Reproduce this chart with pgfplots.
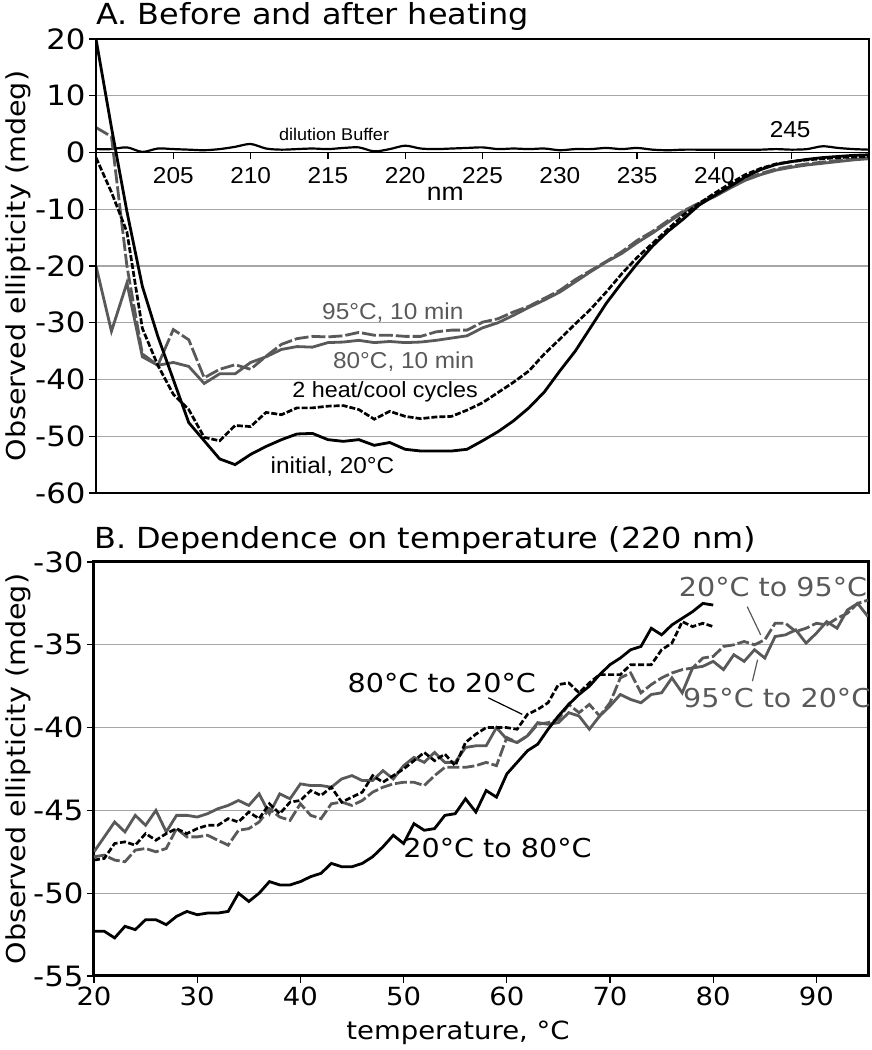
\documentclass[border=0pt]{standalone}
\usepackage{fontspec}
\setmainfont{DejaVu Sans}[FakeStretch=1.1]
\newfontfamily\arial{Liberation Sans}[FakeStretch=1.06]
\usepackage{pgfplots}
\usepackage{pgfplotstable}
\pgfplotsset{compat=1.18}
\definecolor{dg}{HTML}{595959}
\definecolor{gridc}{HTML}{A6A6A6}

\pgfplotstableread{
x init cyc h80 h95 buf
200 20.0 -0.9 -20.0 4.4 0.6
201 4.4 -7.0 -31.5 2.8 0.6
202 -10.4 -14.0 -23.0 -20.0 0.9
203 -23.6 -31.0 -36.0 -35.5 0.1
204 -32.4 -37.5 -37.5 -37.5 0.7
205 -40.0 -42.6 -37.0 -31.2 0.6
206 -47.6 -45.3 -37.7 -33.0 0.5
207 -50.8 -50.2 -40.7 -39.7 0.4
208 -54.0 -50.8 -39.0 -38.2 0.6
209 -55.0 -48.1 -39.0 -37.4 1.0
210 -53.2 -48.3 -37.0 -38.2 1.5
211 -51.8 -45.8 -36.0 -35.9 0.7
212 -50.6 -46.2 -34.7 -33.8 0.5
213 -49.6 -45.0 -34.2 -32.8 0.6
214 -49.5 -45.0 -34.3 -32.4 0.7
215 -50.6 -44.7 -33.5 -32.5 0.6
216 -50.9 -44.6 -33.4 -32.3 0.8
217 -50.6 -45.3 -33.1 -31.7 0.9
218 -51.6 -47.0 -33.5 -32.2 0.2
219 -51.1 -45.6 -33.3 -32.2 0.6
220 -52.3 -46.5 -33.5 -32.4 1.2
221 -52.6 -46.9 -33.4 -32.4 0.7
222 -52.6 -46.6 -33.1 -31.6 0.6
223 -52.6 -46.5 -32.7 -31.3 0.7
224 -52.3 -45.4 -32.3 -31.3 0.8
225 -50.8 -44.1 -30.9 -29.9 0.9
226 -49.2 -42.3 -30.0 -29.3 0.6
227 -47.3 -40.5 -28.7 -28.1 0.7
228 -45.0 -38.5 -27.3 -27.1 0.6
229 -42.2 -35.5 -26.0 -25.7 0.7
230 -38.5 -32.9 -24.6 -24.3 0.4
231 -35.0 -30.2 -22.8 -22.4 0.6
232 -30.8 -27.6 -21.0 -20.8 0.6
233 -26.6 -24.6 -19.3 -19.2 0.8
234 -23.0 -21.4 -17.8 -17.5 0.6
235 -19.6 -18.5 -15.9 -15.5 0.8
236 -16.5 -16.0 -14.2 -13.9 0.5
237 -13.9 -13.5 -12.3 -12.0 0.4
238 -11.7 -11.0 -10.5 -10.3 0.5
239 -9.3 -9.0 -9.0 -8.9 0.5
240 -7.6 -7.2 -7.8 -7.6 0.5
241 -6.0 -5.5 -6.3 -6.1 0.5
242 -4.3 -3.9 -4.9 -4.7 0.5
243 -3.0 -2.8 -3.9 -3.7 0.5
244 -2.1 -2.0 -3.1 -2.9 0.6
245 -1.6 -1.6 -2.6 -2.4 0.5
246 -1.2 -1.3 -2.2 -2.0 0.6
247 -0.9 -1.1 -1.9 -1.7 1.1
248 -0.7 -0.9 -1.6 -1.4 0.8
249 -0.5 -0.8 -1.3 -1.2 0.6
250 -0.4 -0.7 -1.1 -1.0 0.5
}\topdata

\pgfplotstableread{
t a b c d
20 -52.3 -48.0 -47.8 -47.5
21 -52.3 -47.9 -47.7 -46.6
22 -52.7 -47.0 -48.0 -45.7
23 -52.0 -46.9 -48.1 -46.3
24 -52.2 -47.1 -47.4 -45.3
25 -51.6 -46.4 -47.3 -45.9
26 -51.6 -46.8 -47.5 -45.0
27 -51.9 -46.4 -47.3 -46.3
28 -51.4 -46.1 -46.1 -45.3
29 -51.1 -46.4 -46.6 -45.3
30 -51.3 -46.1 -46.6 -45.4
31 -51.2 -45.9 -46.5 -45.2
32 -51.2 -45.9 -46.8 -44.9
33 -51.1 -45.5 -47.1 -44.7
34 -50.0 -45.7 -46.2 -44.4
35 -50.5 -45.1 -46.1 -44.7
36 -50.0 -45.5 -45.7 -44.0
37 -49.3 -44.6 -44.9 -45.2
38 -49.5 -45.2 -45.4 -44.0
39 -49.5 -44.5 -45.6 -44.3
40 -49.3 -44.4 -44.6 -43.4
41 -49.0 -43.8 -45.3 -43.5
42 -48.8 -44.1 -45.5 -43.5
43 -48.2 -43.6 -44.6 -43.6
44 -48.4 -44.5 -44.5 -43.1
45 -48.4 -44.2 -44.7 -42.9
46 -48.2 -43.9 -44.4 -43.2
47 -47.8 -42.9 -43.9 -43.2
48 -47.2 -43.3 -43.6 -42.6
49 -46.5 -42.9 -43.4 -43.1
50 -47.0 -42.5 -43.3 -42.3
51 -45.8 -42.0 -43.3 -41.8
52 -46.2 -41.5 -43.5 -42.1
53 -46.1 -42.0 -42.9 -41.5
54 -45.3 -41.6 -42.4 -42.1
55 -45.2 -42.3 -42.4 -42.1
56 -44.3 -40.9 -42.4 -41.2
57 -45.1 -40.4 -42.3 -41.1
58 -43.8 -40.0 -42.1 -41.1
59 -44.2 -40.0 -42.3 -40.0
60 -42.8 -40.0 -40.6 -40.7
61 -42.1 -40.1 -40.9 -40.9
62 -41.4 -39.2 -40.5 -40.5
63 -41.0 -38.9 -39.8 -39.7
64 -40.1 -38.5 -39.7 -39.8
65 -39.3 -37.4 -39.5 -39.7
66 -38.6 -37.3 -38.6 -39.1
67 -38.0 -37.9 -39.1 -39.3
68 -37.5 -37.3 -38.6 -40.1
69 -36.8 -36.8 -39.3 -39.3
70 -36.2 -36.8 -38.5 -38.7
71 -35.8 -36.8 -37.0 -38.0
72 -35.3 -36.2 -36.7 -38.3
73 -35.1 -36.2 -37.9 -38.5
74 -34.0 -36.2 -37.4 -38.0
75 -34.4 -35.3 -37.0 -37.9
76 -33.8 -34.9 -36.7 -37.0
77 -33.4 -33.6 -36.5 -37.9
78 -33.0 -33.9 -36.4 -36.4
79 -32.5 -33.7 -35.8 -36.3
80 -32.6 -33.9 -35.7 -36.0
81 nan nan -35.1 -36.5
82 nan nan -35.0 -35.6
83 nan nan -34.8 -36.0
84 nan nan -35.0 -35.3
85 nan nan -34.7 -35.8
86 nan nan -33.7 -34.5
87 nan nan -33.7 -34.4
88 nan nan -34.2 -34.1
89 nan nan -34.0 -34.9
90 nan nan -33.7 -34.3
91 nan nan -33.8 -33.6
92 nan nan -33.4 -34.0
93 nan nan -33.1 -32.9
94 nan nan -32.5 -32.5
95 nan nan -32.3 -33.3
}\botdata

\begin{document}
\begin{tikzpicture}
\path[use as bounding box] (0,0) rectangle (871pt,1050pt);

% ---------------- Panel A ----------------
\begin{axis}[
  name=top, at={(96pt,557pt)}, anchor=south west,
  width=773pt, height=454pt, scale only axis,
  xmin=200, xmax=250, ymin=-60, ymax=20,
  axis x line=middle, axis y line=left,
  axis line style={-, black, line width=1.5pt},
  xtick={205,210,...,245},
  xticklabels={205,210,215,220,225,230,235,240,{}},
  ytick={-60,-50,...,20},
  yticklabels={-60,-50,-40,-30,-20,-10,0,10,20},
  ymajorgrids, major grid style={gridc, line width=1.3pt},
  tick style={black, line width=1.3pt}, major tick length=7pt,
  xtick align=outside, ytick align=outside,
  x tick label style={font=\arial\fontsize{23}{27}\selectfont, yshift=-4pt},
  y tick label style={font=\fontsize{28}{31}\selectfont},
  ylabel={Observed ellipticity (mdeg)},
  ylabel style={font=\fontsize{26}{30}\selectfont, at={(axis description cs:-0.101,0.5)}, anchor=center},
]
\addplot[black, line width=2.2pt, smooth] table[x=x,y=buf]{\topdata};
\addplot[dg, line width=2.8pt] table[x=x,y=h80]{\topdata};
\addplot[dg, line width=2.8pt, dash pattern=on 14pt off 3pt] table[x=x,y=h95]{\topdata};
\addplot[black, line width=2.7pt, dash pattern=on 6pt off 2pt] table[x=x,y=cyc]{\topdata};
\addplot[black, line width=2.8pt] table[x=x,y=init]{\topdata};
\node[font=\arial\fontsize{17}{20}\selectfont] at (axis cs:215.4,3.2) {dilution Buffer};
\node[dg, font=\arial\fontsize{23}{27}\selectfont] at (axis cs:219.2,-28.2) {95°C, 10 min};
\node[dg, font=\arial\fontsize{23}{27}\selectfont] at (axis cs:219.9,-36.8) {80°C, 10 min};
\node[font=\arial\fontsize{22}{26}\selectfont] at (axis cs:218.7,-42.1) {2 heat/cool cycles};
\node[font=\arial\fontsize{23}{27}\selectfont] at (axis cs:215.3,-55.3) {initial, 20°C};
\node[font=\arial\fontsize{25}{28}\selectfont] at (axis cs:222.6,-7.2) {nm};
\node[font=\arial\fontsize{23}{27}\selectfont] at (axis cs:244.9,4.0) {245};
\end{axis}
\draw[black, line width=1.5pt] (top.south west) rectangle (top.north east);

% ---------------- Panel B ----------------
\begin{axis}[
  name=bot, at={(94pt,74pt)}, anchor=south west,
  width=774pt, height=414pt, scale only axis,
  xmin=20, xmax=95, ymin=-55, ymax=-30,
  axis line style={black, line width=3pt},
  xtick={20,30,...,90}, xticklabels={20,30,40,50,60,70,80,90},
  ytick={-55,-50,...,-30}, yticklabels={-55,-50,-45,-40,-35,-30},
  xtick pos=bottom, ytick pos=left,
  tick align=outside, major tick length=7pt,
  tick style={black, line width=1.3pt},
  ymajorgrids, major grid style={gridc, line width=1.3pt},
  x tick label style={font=\fontsize{25}{28}\selectfont},
  y tick label style={font=\fontsize{28}{31}\selectfont},
  ylabel={Observed ellipticity (mdeg)},
  ylabel style={font=\fontsize{26}{30}\selectfont, at={(axis description cs:-0.098,0.5)}, anchor=center},
]
\addplot[dg, line width=2.8pt] table[x=t,y=d]{\botdata};
\addplot[dg, line width=2.8pt, dash pattern=on 12pt off 3pt] table[x=t,y=c]{\botdata};
\addplot[black, line width=2.7pt, dash pattern=on 6pt off 2.5pt] table[x=t,y=b]{\botdata};
\addplot[black, line width=2.8pt] table[x=t,y=a]{\botdata};
\node[font=\fontsize{26}{30}\selectfont] at (axis cs:53.7,-37.3) {80°C to 20°C};
\draw[black, line width=1.2pt] (axis cs:58.2,-38.2) -- (axis cs:61.5,-39.2);
\node[font=\fontsize{26}{30}\selectfont] at (axis cs:59.1,-47.25) {20°C to 80°C};
\node[dg, font=\fontsize{26}{30}\selectfont] at (axis cs:85.8,-31.5) {20°C to 95°C};
\draw[dg, line width=1.2pt] (axis cs:83.3,-32.7) -- (axis cs:84.6,-34.4);
\node[dg, font=\fontsize{26}{30}\selectfont] at (axis cs:86.2,-38.2) {95°C to 20°C};
\draw[dg, line width=1.2pt] (axis cs:84.3,-35.9) -- (axis cs:83.8,-37.2);
\end{axis}

% titles and x label
\node[anchor=base west, font=\fontsize{29}{33}\selectfont, inner sep=0pt] at (96pt,1025pt) {A. Before and after heating};
\node[anchor=base west, font=\fontsize{29}{33}\selectfont, inner sep=0pt] at (94pt,501pt) {B. Dependence on temperature (220 nm)};
\node[anchor=base, font=\fontsize{25}{29}\selectfont, inner sep=0pt] at (458pt,10pt) {temperature, °C};
\end{tikzpicture}
\end{document}
